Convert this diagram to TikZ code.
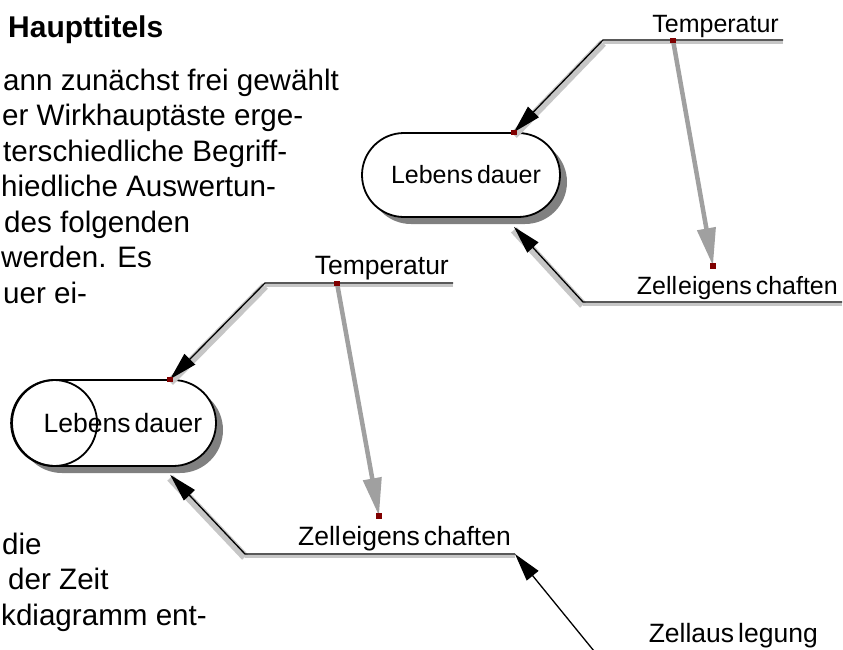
\documentclass[tikz,border=0pt]{standalone}
\usepackage{fontspec}
\setmainfont{Liberation Sans}
\usepackage{tikz}
\usetikzlibrary{positioning,arrows.meta,shadows}

\definecolor{pinred}{RGB}{128,0,0}
\definecolor{shadegray}{RGB}{198,198,198}
\definecolor{inflgray}{RGB}{160,160,160}

\begin{document}
\begin{tikzpicture}[x=1pt, y=-1pt,
        body/.style={anchor=base west, inner sep=0pt, font=\fontsize{29.6}{35}\selectfont},
        term/.style={draw, line width=1.8pt, fill=white, rounded corners=42pt,
                     minimum width=198pt, minimum height=84pt, font=\fontsize{25}{30}\selectfont,
                     drop shadow={shadow xshift=7pt, shadow yshift=-7pt, fill=black!50, opacity=1}},
        lbl/.style={anchor=south east, inner xsep=4pt, inner ysep=2.5pt, font=\fontsize{25}{30}\selectfont},
        biglbl/.style={lbl, font=\fontsize{26.5}{31}\selectfont},
        link/.style={line width=1.3pt, -{Triangle[length=28pt, width=15pt]}},
        linkshade/.style={shadegray, line width=8pt, transform canvas={yshift=-3pt}},
        lineshade/.style={shadegray, line width=2.5pt, transform canvas={yshift=-2.5pt}},
        infl/.style={inflgray, line width=4.5pt, -{Triangle[length=38pt, width=18pt]}},
        pin/.style={fill=pinred, minimum width=6pt, minimum height=5pt, inner sep=0pt}
    ]
    \useasboundingbox (0,0) rectangle (843,649);
    \clip (0,0) rectangle (843,649);

    % text of the slide behind
    \node[body, font=\bfseries\fontsize{30}{36}\selectfont] (titel) at (8,37) {Haupttitels};
    \node[body] (zeile1) at (3,90) {ann zunächst frei gewählt};
    \node[body] (zeile2) at (2,125.5) {er Wirkhauptäste erge-};
    \node[body] (zeile3) at (3,161) {terschiedliche Begriff-};
    \node[body] (zeile4) at (1,196.5) {hiedliche Auswertun-};
    \node[body] (zeile5) at (4,232) {des folgenden};
    \node[body] (zeile6) at (1,267.5) {werden. Es};
    \node[body] (zeile7) at (3,303) {uer ei-};
    \node[body] (zeile8) at (2,554) {die};
    \node[body] (zeile9) at (8,589.5) {der Zeit};
    \node[body] (zeile10) at (1,625) {kdiagramm ent-};

    % upper diagram
    \node[term] (lebenR) at (461,175) {\hspace*{10pt}Lebens\kern4pt dauer};
    \node[lbl] (tempR) at (783,40) {Temperatur};
    \node[lbl] (zellR) at (842,302) {Zell\kern1pt eigens\kern4pt chaften};
    \coordinate (tempRknee) at (603,40);
    \coordinate (zellRknee) at (583,302);
    \coordinate (tempRpin) at (673,40);
    \coordinate (zellRpin) at (713,266);

    \draw[lineshade] (tempR.south east) -- (tempRknee);
    \draw[linkshade] (tempRknee) -- (lebenR.39);
    \draw[link] (tempR.south east) -- (tempRknee) -- (lebenR.39);
    \draw[lineshade] (zellR.south east) -- (zellRknee);
    \draw[linkshade] (zellRknee) -- ([yshift=-9pt]lebenR.-39);
    \draw[link] (zellR.south east) -- (zellRknee) -- ([yshift=-9pt]lebenR.-39);
    \draw[infl] (tempRpin) -- (zellRpin);
    \node[pin] (pinR1) at (tempRpin) {};
    \node[pin, minimum height=6pt] (pinR2) at (zellRpin) {};
    \node[pin] (pinR3) at (lebenR.39) {};

    % lower diagram
    \node[term, minimum width=204pt, minimum height=86pt, rounded corners=43pt,
          font=\fontsize{26.5}{31}\selectfont] (lebenL) at (114,423) {\hspace*{18pt}Lebens\kern4pt dauer};
    \draw[line width=1.8pt] ([xshift=43pt]lebenL.west) circle[radius=43pt];
    \node[biglbl] (tempL) at (453,283) {Temperatur};
    \node[biglbl] (zellL) at (515,554) {Zell\kern1pt eigens\kern4pt chaften};
    \node[biglbl] (ausl) at (822,651) {Zellaus\kern4pt legung};
    \coordinate (tempLknee) at (265,283);
    \coordinate (zellLknee) at (245,554);
    \coordinate (auslknee) at (594,651);
    \coordinate (tempLpin) at (337,283);
    \coordinate (zellLpin) at (379,516);

    \draw[lineshade] (tempL.south east) -- (tempLknee);
    \draw[linkshade] (tempLknee) -- (lebenL.38);
    \draw[link] (tempL.south east) -- (tempLknee) -- (lebenL.38);
    \draw[lineshade] (zellL.south east) -- (zellLknee);
    \draw[linkshade] (zellLknee) -- ([yshift=-8pt]lebenL.-38.5);
    \draw[link] (zellL.south east) -- (zellLknee) -- ([yshift=-8pt]lebenL.-38.5);
    \draw[infl] (tempLpin) -- (zellLpin);
    \draw[link] (ausl.south east) -- (auslknee) -- (zellL.south east);
    \node[pin] (pinL1) at (tempLpin) {};
    \node[pin, minimum height=6pt] (pinL2) at (zellLpin) {};
    \node[pin] (pinL3) at (lebenL.38) {};
\end{tikzpicture}
\end{document}
